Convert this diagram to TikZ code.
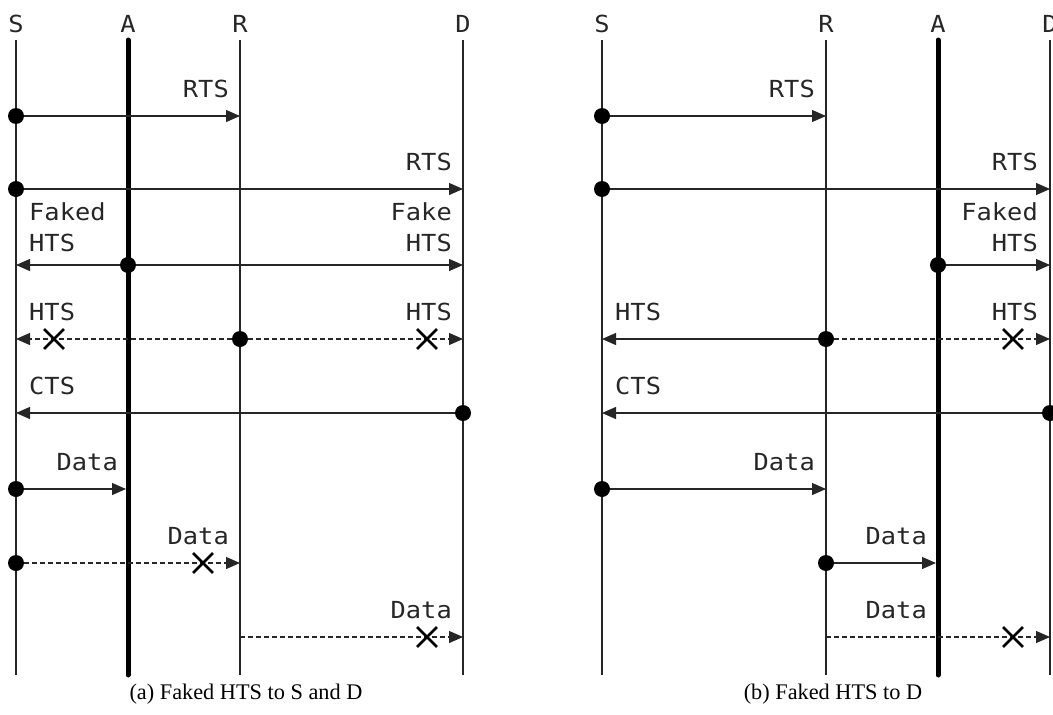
\documentclass[tikz,border=0pt]{standalone}
\usepackage{fontspec}
\setmainfont{Liberation Serif}
\newfontfamily\lblfont[FakeStretch=1.08]{DejaVu Sans Mono}
\usetikzlibrary{arrows.meta,shapes.misc}
\begin{document}
\begin{tikzpicture}[x=1pt,y=-1pt,
  life/.style={line width=1.2pt, black!85},
  attacker/.style={line width=5pt, line cap=round},
  msg/.style={line width=1.2pt, black!85, -{Triangle[length=14pt,width=12pt]}},
  lost/.style={msg, dash pattern=on 5pt off 3pt},
  dotn/.style={circle, fill, inner sep=0pt, minimum size=16pt},
  lbl/.style={font=\lblfont\fontsize{23.5}{31}\selectfont, inner sep=0pt, text=black!85},
  lblr/.style={lbl, anchor=base east},
  lbll/.style={lbl, anchor=base west},
  head/.style={lbl, anchor=base},
  xmark/.style={cross out, draw, line width=2.8pt, minimum size=17pt, inner sep=0pt},
  captext/.style={font=\fontsize{22.3}{26}\selectfont, anchor=base, inner sep=0pt}
]
\useasboundingbox (0,0) rectangle (1053,715);

% ---------------- panel (a) ----------------
\foreach \n/\x in {S/16, A/128, R/240, D/463} {
  \coordinate (a\n t) at (\x,40);
  \coordinate (a\n b) at (\x,675);
  \node[head] (a\n h) at (\x,32) {\n};
}
\draw[life] (aSt) -- (aSb);
\draw[life] (aRt) -- (aRb);
\draw[life] (aDt) -- (aDb);
\draw[attacker] (aAt) -- (aAb);

% row 1
\node[dotn] (a1s) at (16,116) {};
\coordinate (a1e) at (240,116);
\draw[msg] (a1s) -- (a1e);
\node[lblr] (a1l) at (229,97) {RTS};
% row 2
\node[dotn] (a2s) at (16,189) {};
\coordinate (a2e) at (463,189);
\draw[msg] (a2s) -- (a2e);
\node[lblr] (a2l) at (452,170) {RTS};
% row 3
\node[dotn] (a3s) at (128,265) {};
\coordinate (a3w) at (16,265);
\coordinate (a3e) at (463,265);
\draw[msg] (a3s) -- (a3w);
\draw[msg] (a3s) -- (a3e);
\node[lbll] (a3la) at (29,220) {Faked};
\node[lbll] (a3lb) at (29,251) {HTS};
\node[lblr] (a3ra) at (452,220) {Fake};
\node[lblr] (a3rb) at (452,251) {HTS};
% row 4
\node[dotn] (a4s) at (240,339) {};
\coordinate (a4w) at (16,339);
\coordinate (a4e) at (463,339);
\draw[lost] (a4s) -- (a4w);
\draw[lost] (a4s) -- (a4e);
\node[xmark] (a4x1) at (54,339) {};
\node[xmark] (a4x2) at (427,339) {};
\node[lbll] (a4l) at (29,320) {HTS};
\node[lblr] (a4r) at (452,320) {HTS};
% row 5
\node[dotn] (a5s) at (463,413) {};
\coordinate (a5e) at (16,413);
\draw[msg] (a5s) -- (a5e);
\node[lbll] (a5l) at (29,394) {CTS};
% row 6
\node[dotn] (a6s) at (16,489) {};
\coordinate (a6e) at (126,489);
\draw[msg] (a6s) -- (a6e);
\node[lblr] (a6l) at (118,470) {Data};
% row 7
\node[dotn] (a7s) at (16,563) {};
\coordinate (a7e) at (240,563);
\draw[lost] (a7s) -- (a7e);
\node[xmark] (a7x) at (203,563) {};
\node[lblr] (a7l) at (229,544) {Data};
% row 8
\coordinate (a8s) at (240,637);
\coordinate (a8e) at (463,637);
\draw[lost] (a8s) -- (a8e);
\node[xmark] (a8x) at (427,637) {};
\node[lblr] (a8l) at (452,618) {Data};

\node[captext] (capa) at (246,699) {(a) Faked HTS to S and D};

% ---------------- panel (b) ----------------
\foreach \n/\x in {S/602, R/826, A/938, D/1050} {
  \coordinate (b\n t) at (\x,40);
  \coordinate (b\n b) at (\x,675);
  \node[head] (b\n h) at (\x,32) {\n};
}
\draw[life] (bSt) -- (bSb);
\draw[life] (bRt) -- (bRb);
\draw[life] (bDt) -- (bDb);
\draw[attacker] (bAt) -- (bAb);

% row 1
\node[dotn] (b1s) at (602,116) {};
\coordinate (b1e) at (826,116);
\draw[msg] (b1s) -- (b1e);
\node[lblr] (b1l) at (815,97) {RTS};
% row 2
\node[dotn] (b2s) at (602,189) {};
\coordinate (b2e) at (1050,189);
\draw[msg] (b2s) -- (b2e);
\node[lblr] (b2l) at (1038,170) {RTS};
% row 3
\node[dotn] (b3s) at (938,265) {};
\coordinate (b3e) at (1050,265);
\draw[msg] (b3s) -- (b3e);
\node[lblr] (b3ra) at (1038,220) {Faked};
\node[lblr] (b3rb) at (1038,251) {HTS};
% row 4
\node[dotn] (b4s) at (826,339) {};
\coordinate (b4w) at (602,339);
\coordinate (b4e) at (1050,339);
\draw[msg] (b4s) -- (b4w);
\draw[lost] (b4s) -- (b4e);
\node[xmark] (b4x) at (1013,339) {};
\node[lbll] (b4l) at (615,320) {HTS};
\node[lblr] (b4r) at (1038,320) {HTS};
% row 5
\node[dotn] (b5s) at (1050,413) {};
\coordinate (b5e) at (602,413);
\draw[msg] (b5s) -- (b5e);
\node[lbll] (b5l) at (615,394) {CTS};
% row 6
\node[dotn] (b6s) at (602,489) {};
\coordinate (b6e) at (826,489);
\draw[msg] (b6s) -- (b6e);
\node[lblr] (b6l) at (815,470) {Data};
% row 7
\node[dotn] (b7s) at (826,563) {};
\coordinate (b7e) at (936,563);
\draw[msg] (b7s) -- (b7e);
\node[lblr] (b7l) at (927,544) {Data};
% row 8
\coordinate (b8s) at (826,637);
\coordinate (b8e) at (1050,637);
\draw[lost] (b8s) -- (b8e);
\node[xmark] (b8x) at (1013,637) {};
\node[lblr] (b8l) at (927,618) {Data};

\node[captext] (capb) at (833,699) {(b) Faked HTS to D};
\end{tikzpicture}
\end{document}
